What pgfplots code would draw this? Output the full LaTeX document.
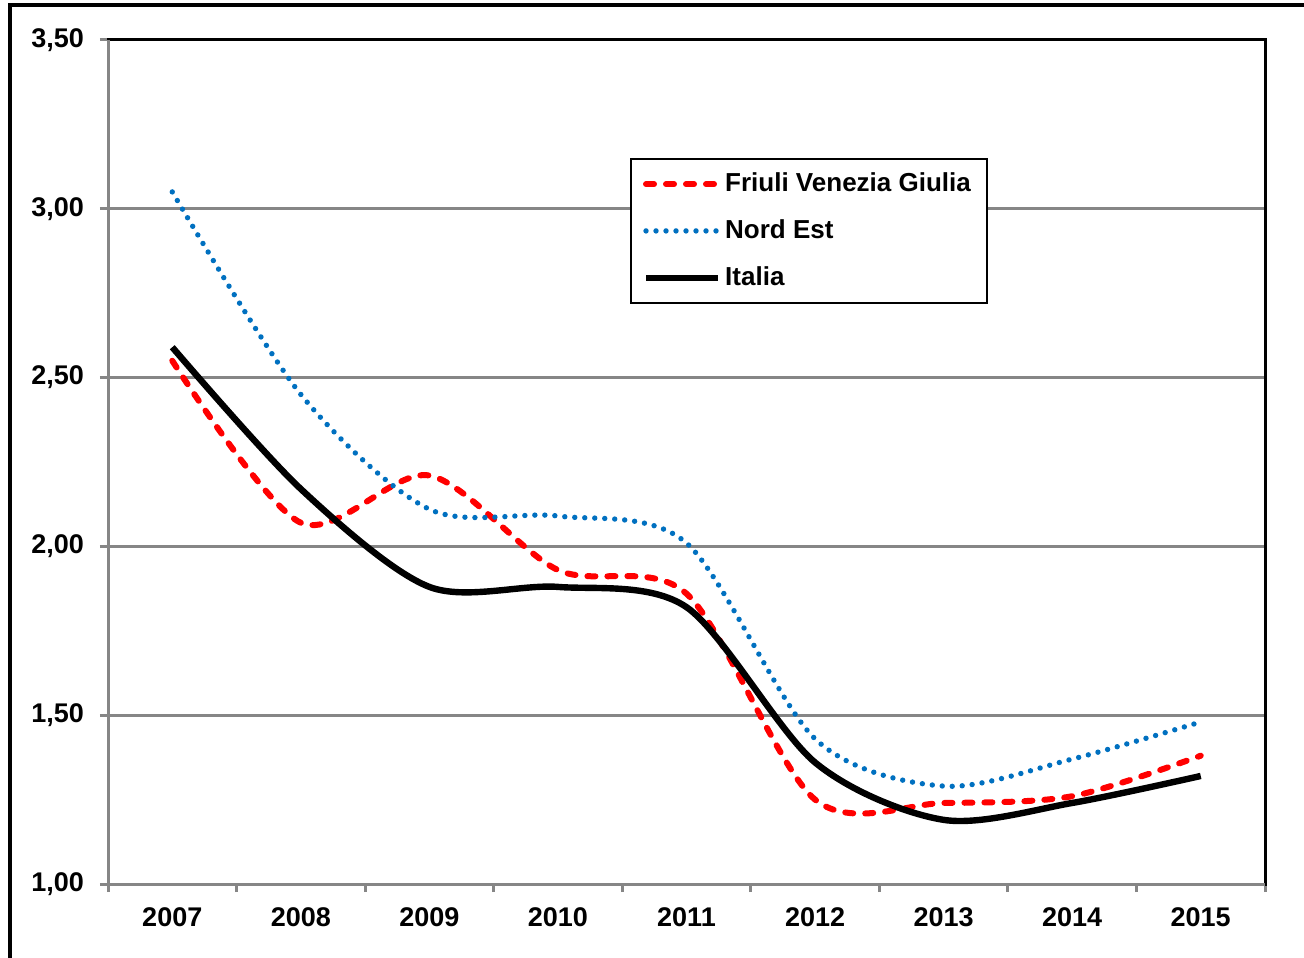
\documentclass[border=0pt]{standalone}
\usepackage{pgfplots}
\pgfplotsset{compat=1.18}
\usepackage{fontspec}
\setmainfont{Liberation Sans}
\definecolor{gridgray}{RGB}{134,134,134}
\definecolor{neblue}{RGB}{0,112,192}
\definecolor{fvgred}{RGB}{255,0,0}
\begin{document}
\begin{tikzpicture}
\useasboundingbox (-54pt,-36.5pt) rectangle (598pt,442pt);
\draw[black, line width=2pt] (-49pt,-40pt) -- (-49pt,439.25pt) -- (600pt,439.25pt);
\begin{axis}[
  name=ax,
  at={(0pt,0pt)}, anchor=south west,
  scale only axis, width=578.5pt, height=422pt,
  xmin=-0.5, xmax=8.5, ymin=1, ymax=3.5,
  xtick={0,...,8},
  xticklabels={2007,2008,2009,2010,2011,2012,2013,2014,2015},
  minor xtick={-0.5,0.5,...,8.5},
  ytick={1,1.5,2,2.5,3,3.5},
  xtick pos=bottom, ytick pos=left,
  tick align=outside,
  major tick length=4pt, minor tick length=4pt,
  major x tick style={draw=none},
  minor x tick style={gridgray, line width=1.5pt},
  major y tick style={gridgray, line width=1.5pt},
  axis line style={black, line width=1.5pt},
  ymajorgrids,
  major grid style={gridgray, line width=1.5pt},
  tick label style={font=\bfseries\fontsize{13.5}{15}\selectfont},
  xticklabel style={yshift=-4.5pt},
  yticklabel style={xshift=-4.5pt},
  /pgf/number format/.cd, use comma, fixed, fixed zerofill, precision=2, assume math mode=true,
  /pgfplots/.cd,
  legend style={at={(0.451,0.860)}, anchor=north west, draw=black, line width=1pt,
    fill=white, font=\bfseries\fontsize{13}{15}\selectfont,
    inner xsep=6pt, inner ysep=5pt, row sep=8.5pt, cells={anchor=west}},
  legend cell align=left,
  legend image code/.code={\draw[#1] plot coordinates {(0pt,0pt) (36pt,0pt)};},
]
\addplot[fvgred, line width=3pt, dash pattern=on 4pt off 6pt, line cap=round, smooth] coordinates {
(0,2.55) (1,2.07) (2,2.21) (3,1.93) (4,1.86) (5,1.25) (6,1.24) (7,1.26) (8,1.38)};
\addlegendentry{Friuli Venezia Giulia}
\addplot[neblue, line width=2.7pt, dash pattern=on 0pt off 5pt, line cap=round, smooth] coordinates {
(0,3.05) (1,2.45) (2,2.11) (3,2.09) (4,2.01) (5,1.43) (6,1.29) (7,1.37) (8,1.48)};
\addlegendentry{Nord Est}
\addplot[black, line width=3.2pt, smooth] coordinates {
(0,2.59) (1,2.17) (2,1.88) (3,1.88) (4,1.82) (5,1.36) (6,1.19) (7,1.24) (8,1.32)};
\addlegendentry{Italia}
\end{axis}
\draw[gridgray, line width=1.5pt] (ax.north west) -- (ax.south west) -- (ax.south east);
\end{tikzpicture}
\end{document}
